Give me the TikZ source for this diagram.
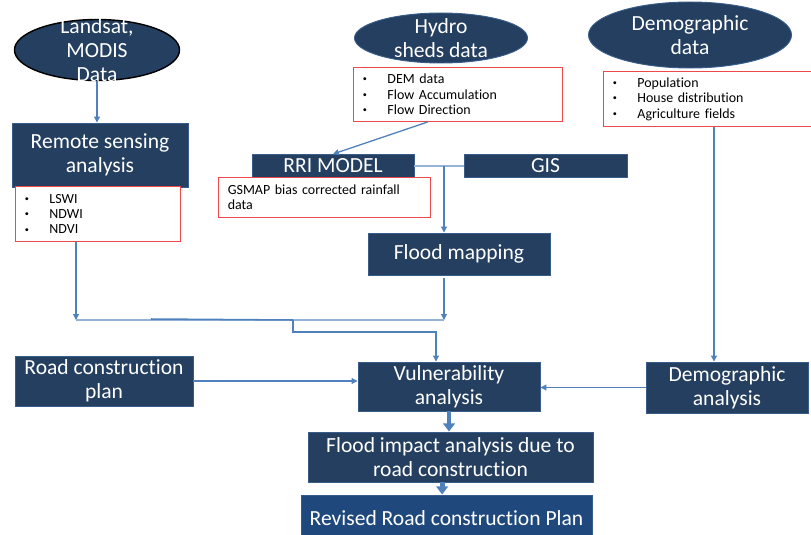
\documentclass[tikz,border=0pt]{standalone}
\usepackage{fontspec}
\setmainfont{Carlito}[Ligatures=NoCommon]
\usetikzlibrary{shapes.geometric, arrows.meta, positioning}

\definecolor{navy}{HTML}{243F60}
\definecolor{navyedge}{HTML}{385D8A}
\definecolor{revblue}{HTML}{1F497D}
\definecolor{linkblue}{HTML}{4F81BD}
\definecolor{paleblue}{HTML}{95B3D7}
\definecolor{listred}{HTML}{F04848}

\newcommand{\bigtxt}{\fontsize{18.4}{20.5}\selectfont}
\newcommand{\smalltxt}{\fontsize{11.9}{13.2}\selectfont}
\newcommand{\itm}[1]{\makebox[21pt][l]{\raisebox{1.6pt}{\fontsize{7}{7}\selectfont\textbullet}}#1}

\tikzset{
  box/.style={
    rectangle, draw=navyedge, fill=navy, line width=0.8pt,
    text=white, font=\bigtxt, align=center, inner sep=0pt
  },
  datasrc/.style={
    ellipse, draw=navyedge, fill=navy, line width=0.8pt,
    text=white, font=\bigtxt, align=center,
    inner xsep=0pt, inner ysep=-14pt
  },
  listbox/.style={
    rectangle, draw=listred, fill=white, line width=0.8pt,
    font=\smalltxt, align=left, anchor=north west,
    inner xsep=8pt, inner ysep=0pt
  },
  arrow/.style={-{Triangle[length=5pt,width=5pt]}, linkblue, line width=0.9pt},
  link/.style={paleblue, line width=1.1pt},
  fatarrow/.style={-{Triangle[length=7pt,width=10pt]}, linkblue, line width=3.5pt},
}

\begin{document}
\begin{tikzpicture}[x=0.03cm, y=-0.03cm]
\useasboundingbox (0,0) rectangle (811,535);
\clip (0,0) rectangle (811,535);

%% ---- DATA SOURCES ----
\node[datasrc, draw=black, line width=1.2pt, minimum width=4.95cm, minimum height=1.83cm]
  (landsat) at (97,50) {Landsat,\\MODIS\\Data};
\node[datasrc, minimum width=5.19cm, minimum height=1.5cm]
  (hydro) at (441,38) {Hydro\\sheds data};
\node[datasrc, minimum width=6.09cm, minimum height=1.98cm]
  (demog) at (690,35) {Demographic\\data};

%% ---- LISTS ----
\node[listbox, minimum width=6.24cm, minimum height=1.62cm, text width=5.7cm]
  (dem) at (353,67) {\itm{DEM data}\\\itm{Flow Accumulation}\\\itm{Flow Direction}};
\node[listbox, minimum width=6.45cm, minimum height=1.65cm, text width=5.9cm]
  (pop) at (603,71) {\itm{Population}\\\itm{House distribution}\\\itm{Agriculture fields}};

%% ---- ANALYSIS ----
\node[box, minimum width=5.28cm, minimum height=1.92cm]
  (rsa) at (100,155) {Remote sensing\\analysis};
\node[listbox, minimum width=4.92cm, minimum height=1.65cm, text width=4.4cm]
  (indices) at (15,186) {\itm{LSWI}\\\itm{NDWI}\\\itm{NDVI}};

\node[box, minimum width=4.86cm, minimum height=0.69cm] (rri) at (333,166) {RRI MODEL};
\node[box, minimum width=4.89cm, minimum height=0.69cm] (gis) at (545.5,166) {GIS};
\node[listbox, minimum width=6.27cm, minimum height=1.2cm, text width=5.8cm]
  (gsmap) at (218,177) {GSMAP bias corrected rainfall\\data};

\node[box, minimum width=5.46cm, minimum height=1.26cm] (flood) at (459,254) {Flood mapping};

\draw[arrow] (landsat.south) -- (landsat.south |- rsa.north);
\draw[arrow, line width=1.1pt] ([xshift=-0.9cm]dem.south) -- (rri.north);
\draw[link] (rri.east) -- (gis.west);
\coordinate (rrisplit) at (444,166);
\draw[arrow] (rrisplit) -- (rrisplit |- flood.north);

%% ---- MERGE ----
\coordinate (mergeL) at (76,320);
\coordinate (mergeR) at (444,320);
\coordinate (tap) at (293,320);
\draw[arrow] (indices.south -| mergeL) -- (mergeL);
\draw[arrow] ([yshift=-0.09cm]flood.south -| mergeR) -- (mergeR);
\draw[link] (mergeL) -- (mergeR);
\draw[linkblue, line width=1.3pt] (151,319) -- (tap);

%% ---- VULNERABILITY ----
\node[box, minimum width=5.34cm, minimum height=1.5cm] (road) at (104,381) {Road construction\\plan};
\node[box, minimum width=5.46cm, minimum height=1.47cm] (vul) at (449,386.5) {Vulnerability\\analysis};
\node[box, minimum width=4.86cm, minimum height=1.53cm] (demo) at (727,387.5) {Demographic\\analysis};

\draw[arrow] (tap) -- ++(0,12) -| ([xshift=-0.39cm]vul.north);
\draw[arrow] (road.east) -- (road.east -| vul.west);
\coordinate (popdrop) at ([xshift=-0.39cm]demo.north);
\draw[arrow] (pop.south -| popdrop) -- (popdrop);
\draw[arrow] (demo.west) -- (demo.west -| vul.east);

%% ---- OUTPUT ----
\node[box, minimum width=8.55cm, minimum height=1.5cm] (impact) at (450.5,457)
  {Flood impact analysis due to\\road construction};
\node[box, fill=revblue, minimum width=8.73cm, minimum height=1.38cm] (revised) at (446.5,518)
  {Revised Road construction Plan};

\draw[fatarrow] (vul.south) -- (vul.south |- impact.north);
\draw[fatarrow, line width=4pt] ([xshift=-0.25cm]impact.south) -- ([xshift=-0.25cm]impact.south |- revised.north);

\end{tikzpicture}
\end{document}
